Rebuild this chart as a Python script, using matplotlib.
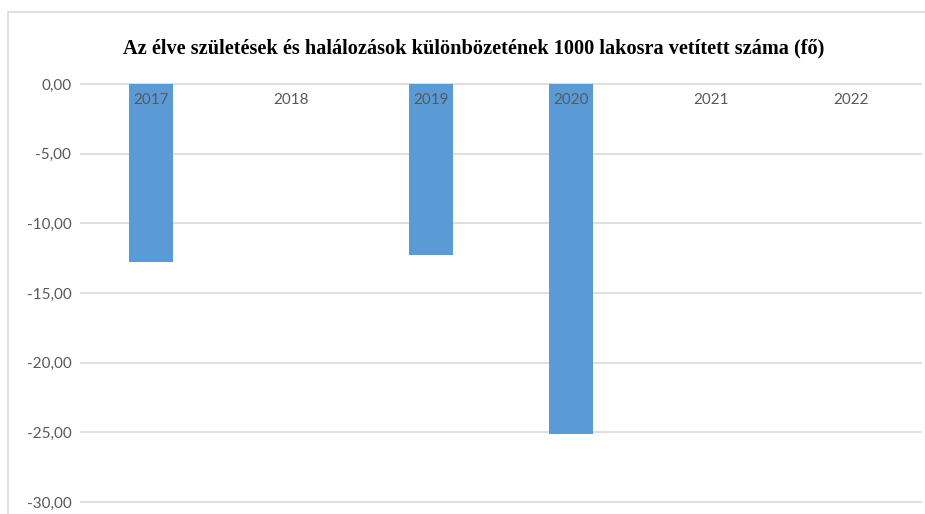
import matplotlib.pyplot as plt
import numpy as np
from matplotlib.patches import Rectangle

years = ["2017", "2018", "2019", "2020", "2021", "2022"]
values = [-12.8, 0.0, -12.3, -25.1, 0.0, 0.0]
y_ticks = [0, -5, -10, -15, -20, -25, -30]
title = "Az élve születések és halálozások különbözetének 1000 lakosra vetített száma (fő)"

bar_color = "#5b9bd5"
grid_color = "#d9d9d9"
text_color = "#595959"

fig = plt.figure(figsize=(9.25, 5.14), dpi=100)
ax = fig.add_axes([0.0876, 0.0233, 0.9081, 0.8133])

# light chart border (cut off at the right and bottom like the source)
fig.patches.append(Rectangle((0.0086, -0.1), 1.2, 1.0767, transform=fig.transFigure,
                             fill=False, edgecolor=grid_color, linewidth=1.2))

x = np.arange(len(years))
ax.bar(x, values, width=0.31, color=bar_color, zorder=2)

ax.set_xlim(-0.5, len(years) - 0.5)
ax.set_ylim(-30, 0)
ax.set_yticks(y_ticks)
ax.set_yticklabels([f"{v:.2f}".replace(".", ",") for v in y_ticks],
                   fontfamily="Lato", fontsize=11, color=text_color)
ax.tick_params(axis="y", length=0, pad=7)
ax.set_xticks([])
for s in ax.spines.values():
    s.set_visible(False)
for v in y_ticks:
    ax.axhline(v, color=grid_color, linewidth=1.2, zorder=1, clip_on=False)

# category labels sit just under the zero line, on top of the bars
for xi, lab in zip(x, years):
    ax.annotate(lab, (xi, 0), xytext=(0, -6.5), textcoords="offset points",
                ha="center", va="top", fontfamily="Lato", fontsize=11,
                color=text_color, zorder=3)

fig.text(0.5124, 0.906, title, ha="center", va="center",
         fontfamily="Liberation Serif", fontweight="bold", fontsize=14.6, color="black")

fig.savefig("out.png", dpi=100)
